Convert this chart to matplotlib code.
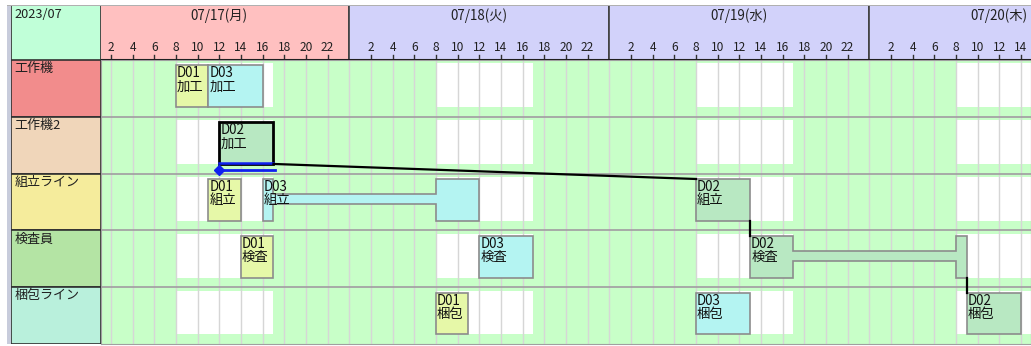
import matplotlib
matplotlib.use('Agg')
import matplotlib.pyplot as plt
from matplotlib.patches import Rectangle, Polygon

plt.rcParams['font.family'] = ['Noto Sans CJK JP', 'DejaVu Sans']

# --- data -------------------------------------------------------------
month_label = '2023/07'
days = ['07/17(月)', '07/18(火)', '07/19(水)', '07/20(木)']
day_colors = ['#FFC0C0', '#D2D2FA', '#D2D2FA', '#D2D2FA']
resources = ['工作機', '工作機2', '組立ライン', '検査員', '梱包ライン']
resource_colors = ['#F28C8C', '#F0D6BA', '#F5EC9C', '#B4E4A4', '#B9F0DC']
hour_ticks = list(range(2, 24, 2))
work_start, work_end = 8, 17          # white calendar block each day

# tasks: order, process, resource index, start hour, end hour (hours from 07/17 00:00)
orders = ['D01', 'D03', 'D02', 'D01', 'D03', 'D02', 'D01', 'D03', 'D02', 'D01', 'D03', 'D02']
procs = ['加工', '加工', '加工', '組立', '組立', '組立', '検査', '検査', '検査', '梱包', '梱包', '梱包']
rows = [0, 0, 1, 2, 2, 2, 3, 3, 3, 4, 4, 4]
starts = [8, 11, 12, 11, 16, 56, 14, 36, 61, 32, 56, 81]
ends = [11, 16, 17, 14, 36, 61, 17, 41, 81, 35, 61, 86]
order_colors = {'D01': '#E6F8A8', 'D02': '#B8E8C2', 'D03': '#B4F4F2'}
selected = 2   # D02 加工

# view range in hours
x_min, x_max = 1.08, 86.93

# --- layout -----------------------------------------------------------
W, H = 1031, 346
fig = plt.figure(figsize=(W / 100, H / 100), dpi=100)


def px_axes(x0, y0, x1, y1):
    return fig.add_axes([x0 / W, 1 - y1 / H, (x1 - x0) / W, (y1 - y0) / H])


# faint window frame
fig.patches.append(Rectangle((7 / W, 2 / H), 4 / W, 339 / H, transform=fig.transFigure,
                             fc='#C8CCDC', ec='none'))
fig.patches.append(Rectangle((7 / W, 340 / H), 1024 / W, 1.5 / H, transform=fig.transFigure,
                             fc='#B0B0B0', ec='none'))

ax = px_axes(101, 60, 1031, 344)
hd = px_axes(101, 5, 1031, 60)
lab = px_axes(11, 60, 101, 344)
corner = px_axes(11, 5, 101, 60)

n_rows = len(resources)
n_days = len(days)

# --- chart body -------------------------------------------------------
ax.set_facecolor('#C8FFC8')
ax.set_xlim(x_min, x_max)
ax.set_ylim(n_rows, 0)
ax.set_xticks([])
ax.set_yticks([])
for s in ax.spines.values():
    s.set_color('#A0A0A0')

blk_top, blk_bot = 0.06, 0.83
task_top, task_bot = 0.095, 0.83
bar_top, bar_bot = 0.36, 0.54

for r in range(n_rows):
    for d in range(n_days):
        ax.add_patch(Rectangle((d * 24 + work_start, r + blk_top), work_end - work_start,
                               blk_bot - blk_top, fc='white', ec='none', zorder=1))
for h in range(0, n_days * 24 + 1, 2):
    ax.axvline(h, color='#D6D6D6', lw=1, zorder=2)
for r in range(1, n_rows):
    ax.axhline(r, color='#A4A4A4', lw=1.3, zorder=2)


def work_segments(a, b):
    segs = []
    for d in range(n_days + 1):
        lo, hi = max(a, d * 24 + work_start), min(b, d * 24 + work_end)
        if hi > lo:
            segs.append((lo, hi))
    return segs


def outline(segs, y_edge, y_bar):
    pts = []
    for k, (a, b) in enumerate(segs):
        if k > 0:
            pts.append((a, y_bar))
        pts += [(a, y_edge), (b, y_edge)]
        if k < len(segs) - 1:
            pts.append((b, y_bar))
    return pts


for i in range(len(orders)):
    r = rows[i]
    top, bot = r + task_top, r + task_bot
    segs = work_segments(starts[i], ends[i])
    pts = outline(segs, top, r + bar_top) + outline(segs, bot, r + bar_bot)[::-1]
    ec, lw = ('black', 2.0) if i == selected else ('#8C8C8C', 1.2)
    ax.add_patch(Polygon(pts, closed=True, fc=order_colors[orders[i]], ec=ec, lw=lw, zorder=3))
    ax.annotate(f'{orders[i]}\n{procs[i]}', xy=(starts[i], top), xytext=(1, -1),
                textcoords='offset pixels', ha='left', va='top', fontsize=9.6,
                linespacing=0.92, color='#101010', zorder=5, clip_on=True)

# selection marker on D02 加工
s = selected
ax.plot([starts[s], ends[s]], [rows[s] + task_bot - 0.01] * 2, color='#1020F0', lw=1.8, zorder=4)
ax.plot([starts[s], ends[s] + 0.1], [rows[s] + 0.93] * 2, color='#1020F0', lw=2, zorder=4)
ax.plot([starts[s]], [rows[s] + 0.93], marker='D', ms=5, color='#1020F0', zorder=4)

# dependency links for D02
chain = [i for i in range(len(orders)) if orders[i] == 'D02']
for a, b in zip(chain[:-1], chain[1:]):
    ax.plot([ends[a], starts[b]], [rows[a] + task_bot, rows[b] + task_top],
            color='black', lw=1.6, zorder=4)

# --- header -----------------------------------------------------------
hd.set_xlim(x_min, x_max)
hd.set_ylim(1, 0)
hd.axis('off')
for d in range(n_days):
    hd.add_patch(Rectangle((d * 24, 0), 24, 1, fc=day_colors[d], ec='#404040', lw=1.2))
    hd.text(d * 24 + 12, 0.2, days[d], ha='center', va='center', fontsize=9.6,
            color='#202020', clip_on=True)
    for h in hour_ticks:
        x = d * 24 + h
        if x_min < x < x_max:
            hd.plot([x, x], [0.9, 1.0], color='#303030', lw=1)
            hd.text(x, 0.77, str(h), ha='center', va='center', fontsize=8.6,
                    color='#202020', clip_on=True)
hd.axhline(1, color='#202020', lw=1.5)

# --- resource labels --------------------------------------------------
lab.set_xlim(0, 1)
lab.set_ylim(n_rows, 0)
lab.axis('off')
for r in range(n_rows):
    lab.add_patch(Rectangle((0, r), 1, 1, fc=resource_colors[r], ec='#303030', lw=1.2))
    lab.text(0.04, r + 0.04, resources[r], ha='left', va='top', fontsize=9.4, color='#202020')

corner.set_xlim(0, 1)
corner.set_ylim(1, 0)
corner.axis('off')
corner.add_patch(Rectangle((0, 0), 1, 1, fc='#C0FFD8', ec='#303030', lw=1.2))
corner.text(0.04, 0.06, month_label, ha='left', va='top', fontsize=9.2, color='#202020')

fig.savefig('out.png', dpi=100)
